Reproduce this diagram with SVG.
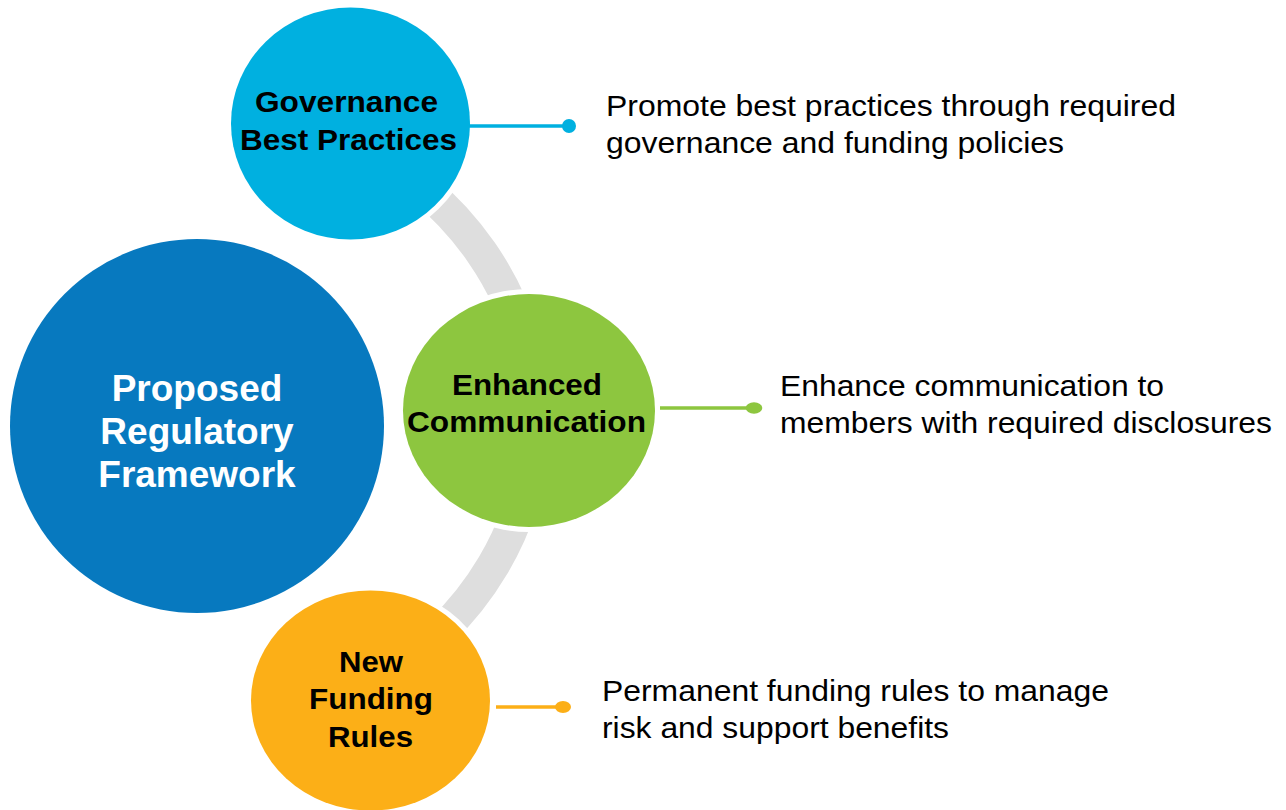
<svg xmlns="http://www.w3.org/2000/svg" width="1286" height="810" viewBox="0 0 1286 810">
  <style>
    .halo { fill: #ffffff; }
    .title { font-family: "Liberation Sans", Arial, sans-serif; font-weight: bold; font-size: 29px; fill: #000000; }
    .hub { font-family: "Liberation Sans", Arial, sans-serif; font-weight: bold; font-size: 37px; fill: #ffffff; text-anchor: middle; }
    .desc { font-family: "Liberation Sans", Arial, sans-serif; font-size: 30px; fill: #000000; }
    .lead { stroke-width: 3.5; fill: none; }
  </style>
  <rect width="1286" height="810" fill="#ffffff"/>

  <!-- grey track linking the three topic circles -->
  <g id="track">
    <path d="M 350 142.7 A 337 309 0 0 1 370.6 682.8" fill="none" stroke="#DEDEDE" stroke-width="33"/>
  </g>

  <!-- central framework circle -->
  <g id="framework">
    <circle cx="197" cy="426" r="187" fill="#0779BF"/>
    <text class="hub" x="197" y="401">Proposed</text>
    <text class="hub" x="197" y="444">Regulatory</text>
    <text class="hub" x="197" y="487">Framework</text>
  </g>

  <!-- governance topic -->
  <g id="governance">
    <ellipse class="halo" cx="350.5" cy="123.5" rx="124.5" ry="121"/>
    <ellipse cx="350.5" cy="123.5" rx="119.5" ry="116" fill="#00B0E0"/>
    <text class="title" x="255" y="112" textLength="183" lengthAdjust="spacingAndGlyphs">Governance</text>
    <text class="title" x="240" y="150" textLength="217" lengthAdjust="spacingAndGlyphs">Best Practices</text>
  </g>

  <!-- communication topic -->
  <g id="communication">
    <ellipse class="halo" cx="529" cy="410.5" rx="131" ry="121.5"/>
    <ellipse cx="529" cy="410.5" rx="126" ry="116.5" fill="#8DC63F"/>
    <text class="title" x="452" y="395" textLength="150" lengthAdjust="spacingAndGlyphs">Enhanced</text>
    <text class="title" x="407" y="432" textLength="239" lengthAdjust="spacingAndGlyphs">Communication</text>
  </g>

  <!-- funding topic -->
  <g id="funding">
    <ellipse class="halo" cx="370.5" cy="700.5" rx="124.5" ry="115"/>
    <ellipse cx="370.5" cy="700.5" rx="119.5" ry="110" fill="#FCAF17"/>
    <text class="title" x="339" y="672" textLength="64" lengthAdjust="spacingAndGlyphs">New</text>
    <text class="title" x="309" y="709" textLength="124" lengthAdjust="spacingAndGlyphs">Funding</text>
    <text class="title" x="328" y="746.5" textLength="85" lengthAdjust="spacingAndGlyphs">Rules</text>
  </g>

  <!-- leader lines from each topic to its description -->
  <g id="connectors">
    <line class="lead" x1="469" y1="126" x2="569" y2="126" stroke="#00B0E0"/>
    <circle cx="569" cy="126" r="7" fill="#00B0E0"/>
    <line class="lead" x1="660" y1="408" x2="754" y2="408" stroke="#8DC63F"/>
    <ellipse cx="754" cy="408" rx="8.3" ry="5.7" fill="#8DC63F"/>
    <line class="lead" x1="496" y1="707" x2="563" y2="707" stroke="#FCAF17"/>
    <ellipse cx="563" cy="707" rx="8" ry="6" fill="#FCAF17"/>
  </g>

  <!-- descriptions -->
  <g id="desc-governance">
    <text class="desc" x="606" y="116" textLength="570" lengthAdjust="spacingAndGlyphs">Promote best practices through required</text>
    <text class="desc" x="606" y="153" textLength="458" lengthAdjust="spacingAndGlyphs">governance and funding policies</text>
  </g>
  <g id="desc-communication">
    <text class="desc" x="780" y="396" textLength="384" lengthAdjust="spacingAndGlyphs">Enhance communication to</text>
    <text class="desc" x="780" y="433" textLength="492" lengthAdjust="spacingAndGlyphs">members with required disclosures</text>
  </g>
  <g id="desc-funding">
    <text class="desc" x="602" y="701" textLength="507" lengthAdjust="spacingAndGlyphs">Permanent funding rules to manage</text>
    <text class="desc" x="602" y="738" textLength="347" lengthAdjust="spacingAndGlyphs">risk and support benefits</text>
  </g>
</svg>
